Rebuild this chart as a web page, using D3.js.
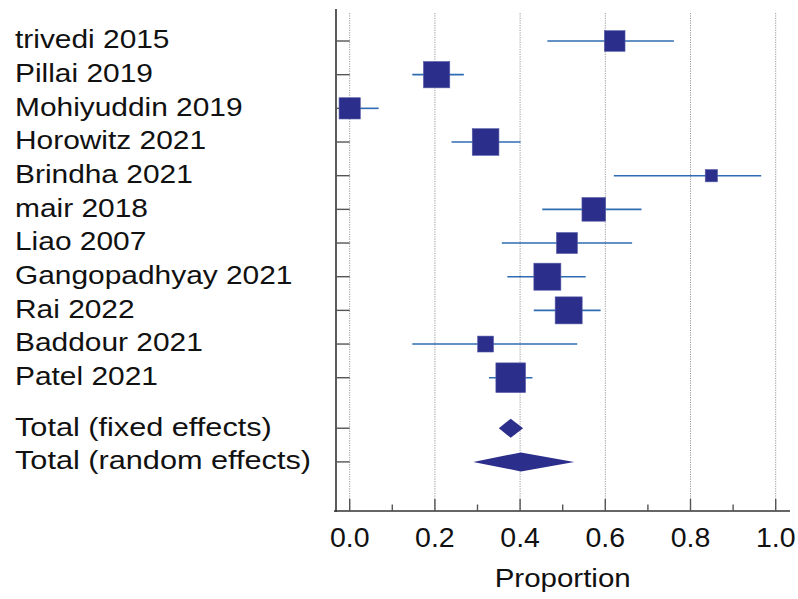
<!DOCTYPE html>
<html>
<head>
<meta charset="utf-8">
<script src="https://cdn.jsdelivr.net/npm/d3@7"></script>
<style>
  body { margin: 0; background: #fff; }
  svg { display: block; }
  text { font-family: "Liberation Sans", Arial, sans-serif; fill: #111; }
</style>
</head>
<body>
<svg id="chart" width="798" height="599"></svg>
<script>
// Study data (proportion, 95% CI, weight %)
var studies = ["trivedi 2015", "Pillai 2019", "Mohiyuddin 2019", "Horowitz 2021", "Brindha 2021",
    "mair 2018", "Liao 2007", "Gangopadhyay 2021", "Rai 2022", "Baddour 2021", "Patel 2021"];
var estimates = [0.622, 0.204, 0.000, 0.319, 0.849, 0.573, 0.510, 0.464, 0.514, 0.319, 0.378];
var lowerCI   = [0.464, 0.147, 0.000, 0.239, 0.620, 0.452, 0.357, 0.370, 0.432, 0.147, 0.327];
var upperCI   = [0.761, 0.268, 0.068, 0.401, 0.966, 0.685, 0.663, 0.554, 0.589, 0.534, 0.429];
var weights   = [7.1, 11.5, 7.5, 11.8, 2.5, 9.3, 7.3, 12.1, 12.1, 4.2, 14.6];

// Pooled estimates
var totals     = ["Total (fixed effects)", "Total (random effects)"];
var totalEst   = [0.378, 0.402];
var totalLower = [0.350, 0.290];
var totalUpper = [0.407, 0.527];

var xTicks = [0, 0.2, 0.4, 0.6, 0.8, 1.0];
var xMinorTicks = [0.1, 0.3, 0.5, 0.7, 0.9];

var svg = d3.select('#chart');

var x = d3.scaleLinear().domain([0, 1]).range([349.7, 775.7]);
var y = d3.scaleLinear().domain([0, 12.5]).range([41, 461.9]);
var size = d3.scaleSqrt().domain([0, 14.6]).range([0, 29.7]);

var axisLeft = 336, axisTop = 9, axisBottom = 511;
var lineColor = '#2f6db3', boxColor = '#2b2e8a';

var rows = studies.map(function(s, i) {
    return { name: s, est: estimates[i], lo: lowerCI[i], hi: upperCI[i], w: weights[i], pos: i, sx: 1.15 };
});
var pooled = totals.map(function(s, i) {
    return { name: s, est: totalEst[i], lo: totalLower[i], hi: totalUpper[i], pos: 11.5 + i, sx: 1.18 };
});

// Grid lines (dotted)
svg.append('g').selectAll('line')
    .data(xTicks)
    .enter().append('line')
    .attr('x1', x).attr('x2', x)
    .attr('y1', 13).attr('y2', axisBottom)
    .attr('stroke', '#9a9a9a')
    .attr('stroke-dasharray', '1.2,1.2');

// Axes
svg.append('line')
    .attr('x1', axisLeft).attr('x2', axisLeft)
    .attr('y1', axisTop).attr('y2', axisBottom + 1)
    .attr('stroke', '#333').attr('stroke-width', 1.6);
svg.append('line')
    .attr('x1', 334).attr('x2', 790)
    .attr('y1', axisBottom).attr('y2', axisBottom)
    .attr('stroke', '#333').attr('stroke-width', 1.6);

// y ticks (inward)
svg.append('g').selectAll('line')
    .data(rows.concat(pooled))
    .enter().append('line')
    .attr('x1', axisLeft).attr('x2', x(0))
    .attr('y1', function(d) { return y(d.pos); })
    .attr('y2', function(d) { return y(d.pos); })
    .attr('stroke', '#555').attr('stroke-width', 1.4);

// x ticks (inward)
svg.append('g').selectAll('line')
    .data(xTicks)
    .enter().append('line')
    .attr('x1', x).attr('x2', x)
    .attr('y1', axisBottom - 12).attr('y2', axisBottom)
    .attr('stroke', '#555').attr('stroke-width', 1.4);
svg.append('g').selectAll('line')
    .data(xMinorTicks)
    .enter().append('line')
    .attr('x1', x).attr('x2', x)
    .attr('y1', axisBottom - 6.5).attr('y2', axisBottom)
    .attr('stroke', '#555').attr('stroke-width', 1.4);

svg.append('g').selectAll('text')
    .data(xTicks)
    .enter().append('text')
    .attr('x', x).attr('y', 546.7)
    .attr('text-anchor', 'middle')
    .style('font-size', '28.5px')
    .text(function(d) { return d.toFixed(1); });

svg.append('text')
    .attr('transform', 'translate(' + x(0.5) + ',587) scale(1.18,1)')
    .attr('text-anchor', 'middle')
    .style('font-size', '25px')
    .text('Proportion');

// Row labels
svg.append('g').selectAll('text')
    .data(rows.concat(pooled))
    .enter().append('text')
    .attr('transform', function(d) { return 'translate(15,' + (y(d.pos) + 7.3) + ') scale(' + d.sx + ',1)'; })
    .style('font-size', '26px')
    .text(function(d) { return d.name; });

// Confidence intervals
svg.append('g').selectAll('line')
    .data(rows)
    .enter().append('line')
    .attr('x1', function(d) { return x(d.lo); })
    .attr('x2', function(d) { return x(d.hi); })
    .attr('y1', function(d) { return y(d.pos); })
    .attr('y2', function(d) { return y(d.pos); })
    .attr('stroke', lineColor).attr('stroke-width', 1.6);

// Squares sized by weight
svg.append('g').selectAll('rect')
    .data(rows)
    .enter().append('rect')
    .attr('x', function(d) { return x(d.est) - size(d.w) / 2; })
    .attr('y', function(d) { return y(d.pos) - size(d.w) / 2; })
    .attr('width', function(d) { return size(d.w); })
    .attr('height', function(d) { return size(d.w); })
    .attr('fill', boxColor)
    .attr('stroke', '#5a5fa8').attr('stroke-width', 0.6);

// Diamonds for pooled estimates
var half = 9.5;
svg.append('g').selectAll('path')
    .data(pooled)
    .enter().append('path')
    .attr('d', function(d) {
        var cy = y(d.pos);
        return 'M' + x(d.lo) + ',' + cy +
            'L' + x(d.est) + ',' + (cy - half) +
            'L' + x(d.hi) + ',' + cy +
            'L' + x(d.est) + ',' + (cy + half) + 'Z';
    })
    .attr('fill', boxColor);
</script>
</body>
</html>
